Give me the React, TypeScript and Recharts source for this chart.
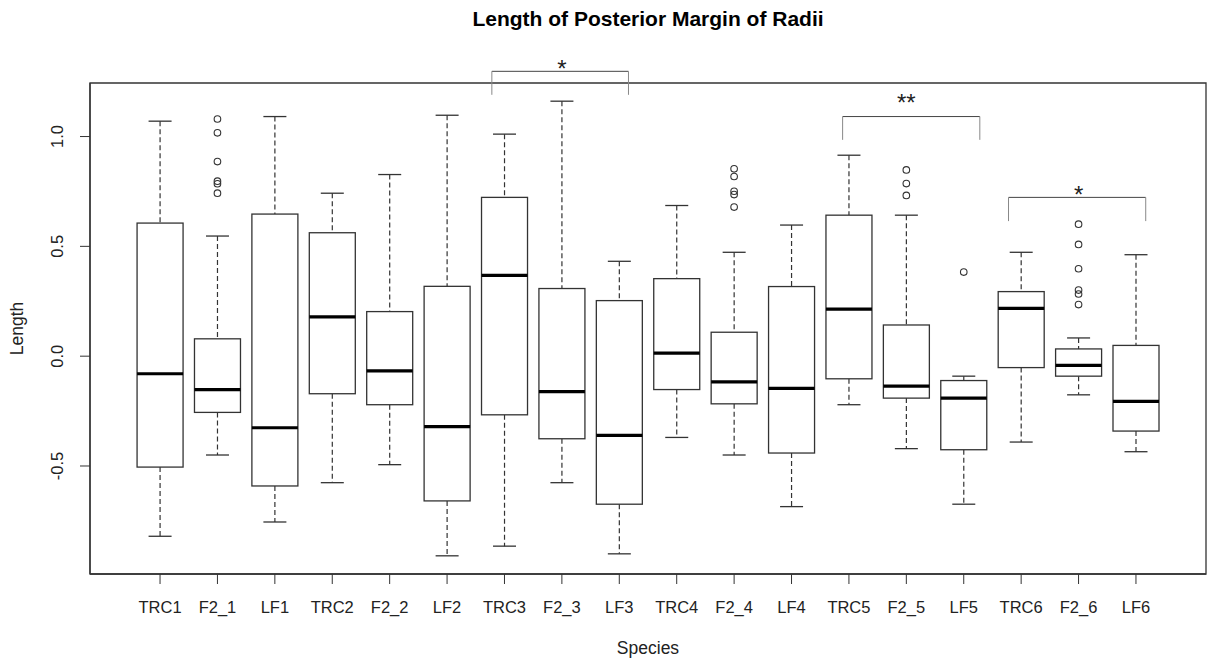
import React from 'react';
import {
  ComposedChart,
  Bar,
  Scatter,
  XAxis,
  YAxis,
  ReferenceLine,
  ReferenceDot,
  ReferenceArea,
} from 'recharts';

// ---------- data ----------
const categories = [
  'TRC1', 'F2_1', 'LF1', 'TRC2', 'F2_2', 'LF2', 'TRC3', 'F2_3', 'LF3',
  'TRC4', 'F2_4', 'LF4', 'TRC5', 'F2_5', 'LF5', 'TRC6', 'F2_6', 'LF6',
];
const whiskerLow = [-0.82, -0.45, -0.755, -0.576, -0.494, -0.909, -0.865, -0.576, -0.9, -0.37, -0.45, -0.685, -0.221, -0.421, -0.674, -0.391, -0.176, -0.435];
const lowerQuartile = [-0.505, -0.256, -0.591, -0.171, -0.221, -0.659, -0.267, -0.376, -0.674, -0.152, -0.217, -0.441, -0.103, -0.191, -0.426, -0.052, -0.091, -0.341];
const medians = [-0.08, -0.152, -0.326, 0.179, -0.067, -0.321, 0.368, -0.161, -0.361, 0.014, -0.117, -0.147, 0.214, -0.136, -0.191, 0.218, -0.042, -0.206];
const upperQuartile = [0.606, 0.079, 0.647, 0.562, 0.203, 0.318, 0.723, 0.308, 0.253, 0.353, 0.109, 0.317, 0.642, 0.142, -0.111, 0.294, 0.033, 0.049];
const whiskerHigh = [1.07, 0.547, 1.091, 0.742, 0.827, 1.097, 1.011, 1.161, 0.432, 0.686, 0.473, 0.597, 0.915, 0.642, -0.091, 0.473, 0.083, 0.462];

const outlierGroups = ['F2_1', 'F2_4', 'F2_5', 'LF5', 'F2_6'];
const outlierValues = [
  [1.08, 1.017, 0.886, 0.797, 0.785, 0.742],
  [0.853, 0.818, 0.751, 0.736, 0.679],
  [0.848, 0.786, 0.732],
  [0.383],
  [0.601, 0.509, 0.398, 0.301, 0.283, 0.235],
];

const yTicks = [-0.5, 0, 0.5, 1.0];

// significance brackets (data coordinates)
const bracketFrom = [6.78, 12.89, 15.78];
const bracketTo = [9.16, 15.28, 18.17];
const bracketTop = [1.297, 1.091, 0.723];
const bracketFoot = [1.19, 0.985, 0.615];
const bracketText = ['*', '**', '*'];
const bracketTextX = [8, 14, 17];
const bracketTextY = [1.332, 1.179, 0.76];

const title = 'Length of Posterior Margin of Radii';
const xLabel = 'Species';
const yLabel = 'Length';

// ---------- derived tables ----------
const rows = categories.map((name, i) => ({
  pos: i + 1,
  name,
  lo: whiskerLow[i],
  q1: lowerQuartile[i],
  med: medians[i],
  q3: upperQuartile[i],
  hi: whiskerHigh[i],
}));

const outliers = outlierGroups.flatMap((g, gi) =>
  outlierValues[gi].map((v) => ({ pos: categories.indexOf(g) + 1, value: v }))
);

const n = categories.length;
const xDomain = [0.5 - 0.04 * n, n + 0.5 + 0.04 * n];
const allVals = [...whiskerLow, ...whiskerHigh, ...outlierValues.flat()];
const yMin = Math.min(...allVals);
const yMax = Math.max(...allVals);
const yExt = (yMax - yMin) * 0.04;
const yDomain = [yMin - yExt, yMax + yExt];

const FONT = '"Liberation Sans", Arial, sans-serif';
const INK = '#222';
const LINE = '#333';

const BoxShape = (props: any) => {
  const { x, y, width, height, payload } = props;
  if (!payload || !height) return null;
  const { lo, q1, med, q3, hi } = payload;
  const top = Math.min(y, y + height);
  const h = Math.abs(height);
  const ppu = h / (hi - lo);
  const py = (v: number) => top + (hi - v) * ppu;
  const cx = x + width / 2;
  const sw = width / 4;
  return (
    <g>
      <line x1={cx} x2={cx} y1={py(hi)} y2={py(q3)} stroke={LINE} strokeWidth={1.2} strokeDasharray="5 3" />
      <line x1={cx} x2={cx} y1={py(q1)} y2={py(lo)} stroke={LINE} strokeWidth={1.2} strokeDasharray="5 3" />
      <line x1={cx - sw} x2={cx + sw} y1={py(hi)} y2={py(hi)} stroke={LINE} strokeWidth={1.3} />
      <line x1={cx - sw} x2={cx + sw} y1={py(lo)} y2={py(lo)} stroke={LINE} strokeWidth={1.3} />
      <rect x={x} y={py(q3)} width={width} height={py(q1) - py(q3)} fill="#fff" stroke={LINE} strokeWidth={1.3} />
      <line x1={x} x2={x + width} y1={py(med)} y2={py(med)} stroke="#000" strokeWidth={3.2} />
    </g>
  );
};

const OutlierShape = (props: any) => {
  const { cx, cy } = props;
  if (cx == null || cy == null) return null;
  return <circle cx={cx} cy={cy} r={3.3} fill="none" stroke={LINE} strokeWidth={1.1} />;
};

const YTick = (props: any) => {
  const { x, y, payload } = props;
  return (
    <text
      x={x}
      y={y}
      transform={`rotate(-90 ${x} ${y})`}
      textAnchor="middle"
      fontSize={16.5}
      fontFamily={FONT}
      fill={INK}
    >
      {Number(payload.value).toFixed(1)}
    </text>
  );
};

const STAR_SIZE = 24;

export default function App() {
  return (
    <div style={{ position: 'absolute', left: 0, top: 0, background: '#fff' }}>
      <ComposedChart
        width={1208}
        height={665}
        data={rows}
        margin={{ top: 83, right: 2, bottom: 0, left: 0 }}
        barCategoryGap="10%"
        style={{ fontFamily: FONT }}
      >
        <XAxis
          type="number"
          dataKey="pos"
          domain={xDomain}
          ticks={rows.map((r) => r.pos)}
          interval={0}
          tickFormatter={(v: number) => categories[v - 1] ?? ''}
          height={91}
          tickSize={10}
          tickMargin={17}
          tick={{ fontSize: 16.5, fill: INK, fontFamily: FONT }}
          tickLine={{ stroke: LINE }}
          axisLine={{ stroke: LINE, strokeWidth: 1.3 }}
          allowDataOverflow
          label={{
            content: (p: any) => {
              const vb = p.viewBox || {};
              return (
                <text x={vb.x + vb.width / 2} y={vb.y + 80} textAnchor="middle" fontSize={17.5} fontFamily={FONT} fill={INK}>
                  {xLabel}
                </text>
              );
            },
          }}
        />
        <YAxis
          type="number"
          domain={yDomain}
          ticks={yTicks}
          width={90}
          tickSize={10}
          tickMargin={17}
          tick={<YTick />}
          tickLine={{ stroke: LINE }}
          axisLine={{ stroke: LINE, strokeWidth: 1.3 }}
          allowDataOverflow
          label={{
            content: (p: any) => {
              const vb = p.viewBox || {};
              const cx = vb.x + 23;
              const cy = vb.y + vb.height / 2;
              return (
                <text x={cx} y={cy} transform={`rotate(-90 ${cx} ${cy})`} textAnchor="middle" fontSize={17.5} fontFamily={FONT} fill={INK}>
                  {yLabel}
                </text>
              );
            },
          }}
        />
        <ReferenceArea
          x1={xDomain[0]}
          x2={xDomain[1]}
          y1={yDomain[0]}
          y2={yDomain[1]}
          fill="none"
          fillOpacity={0}
          stroke={LINE}
          strokeWidth={1.3}
          ifOverflow="visible"
          label={{
            content: (p: any) => {
              const vb = p.viewBox || {};
              return (
                <text x={vb.x + vb.width / 2} y={vb.y - 57} textAnchor="middle" fontSize={21} fontWeight="bold" fontFamily={FONT} fill="#000">
                  {title}
                </text>
              );
            },
          }}
        />
        <Bar
          dataKey={(d: any) => [d.lo, d.hi]}
          shape={<BoxShape />}
          isAnimationActive={false}
        />
        <Scatter
          data={outliers}
          dataKey="value"
          shape={<OutlierShape />}
          isAnimationActive={false}
        />
        {bracketText.map((_, i) => (
          <ReferenceLine
            key={`bh${i}`}
            segment={[{ x: bracketFrom[i], y: bracketTop[i] }, { x: bracketTo[i], y: bracketTop[i] }]}
            stroke="#444"
            strokeWidth={1}
            ifOverflow="visible"
          />
        ))}
        {bracketText.map((_, i) => (
          <ReferenceLine
            key={`bl${i}`}
            segment={[{ x: bracketFrom[i], y: bracketTop[i] }, { x: bracketFrom[i], y: bracketFoot[i] }]}
            stroke="#888"
            strokeWidth={1}
            ifOverflow="visible"
          />
        ))}
        {bracketText.map((_, i) => (
          <ReferenceLine
            key={`br${i}`}
            segment={[{ x: bracketTo[i], y: bracketTop[i] }, { x: bracketTo[i], y: bracketFoot[i] }]}
            stroke="#888"
            strokeWidth={1}
            ifOverflow="visible"
          />
        ))}
        {bracketText.map((t, i) => (
          <ReferenceDot
            key={`bt${i}`}
            x={bracketTextX[i]}
            y={bracketTextY[i]}
            r={1}
            fill="none"
            stroke="none"
            ifOverflow="visible"
            label={{
              content: (p: any) => {
                const vb = p.viewBox || {};
                const cx = vb.x + (vb.width || 0) / 2;
                const cy = vb.y + (vb.height || 0) / 2;
                return (
                  <text x={cx} y={cy + STAR_SIZE * 0.57} textAnchor="middle" fontSize={STAR_SIZE} fontFamily={FONT} fill={INK}>
                    {t}
                  </text>
                );
              },
            }}
          />
        ))}
      </ComposedChart>
    </div>
  );
}
